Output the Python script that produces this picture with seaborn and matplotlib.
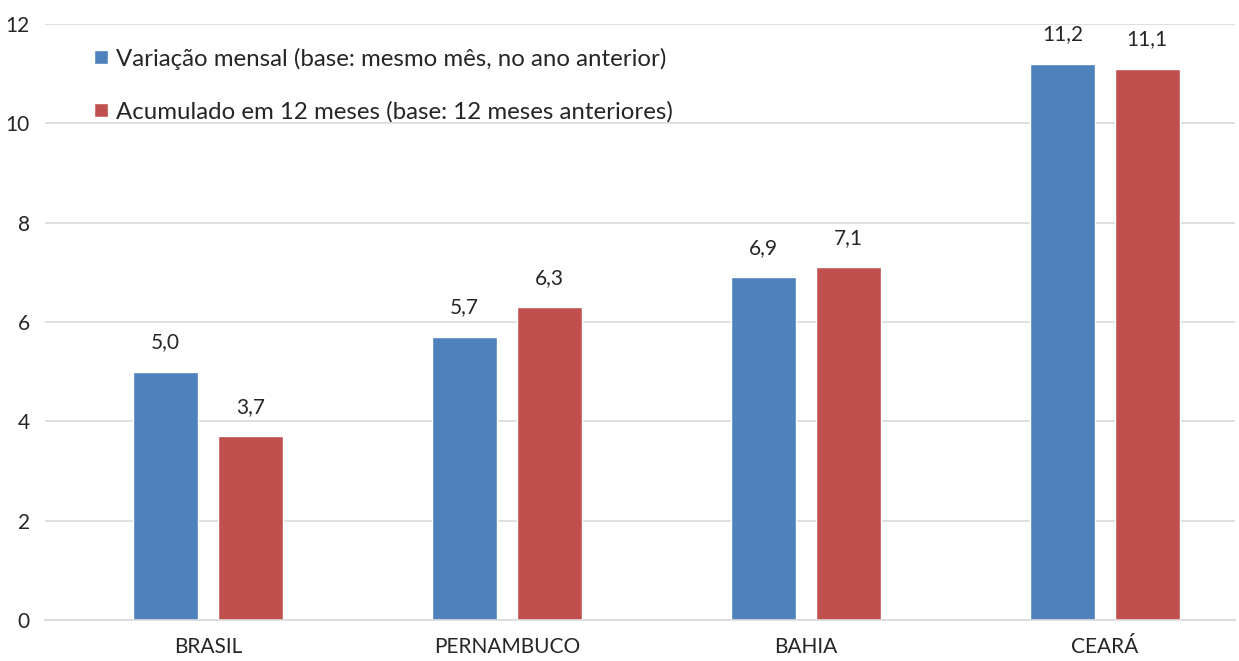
import matplotlib
matplotlib.use("Agg")
import matplotlib.pyplot as plt
import seaborn as sns
import pandas as pd

categorias = ["BRASIL", "PERNAMBUCO", "BAHIA", "CEARÁ"]
variacao_mensal = [5.0, 5.7, 6.9, 11.2]
acumulado_12m = [3.7, 6.3, 7.1, 11.1]
series = ["Variação mensal (base: mesmo mês, no ano anterior)",
          "Acumulado em 12 meses (base: 12 meses anteriores)"]
cores = ["#4F81BD", "#C0504D"]

df = pd.DataFrame({
    "categoria": categorias * 2,
    "valor": variacao_mensal + acumulado_12m,
    "serie": [series[0]] * len(categorias) + [series[1]] * len(categorias),
})

sns.set_theme(style="white")
plt.rcParams["font.family"] = ["Lato", "DejaVu Sans"]

fig = plt.figure(figsize=(12.39, 6.61), dpi=100)
ax = fig.add_axes([45 / 1239, 41 / 661, 1190 / 1239, 596 / 661])

sns.barplot(data=df, x="categoria", y="valor", hue="serie",
            palette=cores, width=0.565, gap=0.23, saturation=1,
            ax=ax, legend=True)

ax.set_ylim(0, 12)
ax.set_yticks(range(0, 13, 2))
ax.set_xlim(-0.545, 3.435)
ax.grid(axis="y", color="#D9D9D9", linewidth=1.2)
ax.set_axisbelow(True)
for s in ["top", "right", "left"]:
    ax.spines[s].set_visible(False)
ax.spines["bottom"].set_color("#D9D9D9")
ax.spines["bottom"].set_linewidth(1.2)
ax.set_xlabel("")
ax.set_ylabel("")
ax.tick_params(axis="both", length=0, labelsize=15, colors="#262626")
ax.tick_params(axis="y", pad=11)
ax.tick_params(axis="x", pad=12)

for cont in ax.containers:
    ax.bar_label(cont, labels=[f"{v:.1f}".replace(".", ",") for v in cont.datavalues],
                 padding=14, fontsize=15, color="#262626")

leg = ax.legend(loc="upper left", bbox_to_anchor=(0.0233, 0.997), frameon=False,
                fontsize=17.3, handlelength=0.55, handleheight=0.55,
                handletextpad=0.35, labelspacing=1.3, labelcolor="#262626")

fig.savefig("out.png", dpi=100)
